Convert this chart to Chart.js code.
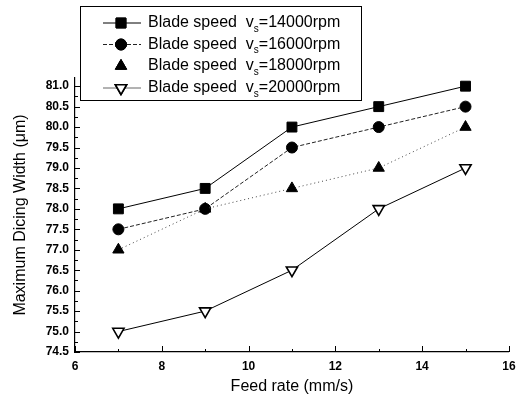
<!DOCTYPE html>
<html><head><meta charset="utf-8">
<script src="https://cdn.jsdelivr.net/npm/chart.js@4/dist/chart.umd.min.js"></script>
<style>html,body{margin:0;padding:0;background:#fff}#wrap{width:517px;height:397px}</style>
</head><body><div id="wrap"><canvas id="c" width="517" height="397"></canvas></div>
<script>
const feedRates = [7, 9, 11, 13, 15];
const width14000 = [78.0, 78.5, 80.0, 80.5, 81.0];
const width16000 = [77.5, 78.0, 79.5, 80.0, 80.5];
const width18000 = [77.0, 78.0, 78.5, 79.0, 80.0];
const width20000 = [75.0, 75.5, 76.5, 78.0, 79.0];
const speeds = ['14000', '16000', '18000', '20000'];
const yTicks = [74.5, 75.0, 75.5, 76.0, 76.5, 77.0, 77.5, 78.0, 78.5, 79.0, 79.5, 80.0, 80.5, 81.0];
const xTickLabels = [6, 8, 10, 12, 14, 16];
const xTitle = 'Feed rate (mm/s)';
const yTitle = 'Maximum Dicing Width (\u03bcm)';

const pts = arr => feedRates.map((x, i) => ({x: x, y: arr[i]}));

const styles = [
  {pointStyle: 'rect', pointRadius: 7, bg: '#000', dash: [], lineColor: '#000', rot: 0},
  {pointStyle: 'circle', pointRadius: 5.5, bg: '#000', dash: [4, 2], lineColor: '#222', rot: 0},
  {pointStyle: 'triangle', pointRadius: 6.5, bg: '#000', dash: [1, 3], lineColor: '#444', rot: 0},
  {pointStyle: 'triangle', pointRadius: 6.5, bg: '#fff', dash: [], lineColor: '#000', rot: 180}
];
const seriesData = [width14000, width16000, width18000, width20000];

const datasets = seriesData.map((d, i) => ({
  label: 'Blade speed  vs=' + speeds[i] + 'rpm',
  data: pts(d),
  borderColor: styles[i].lineColor,
  borderWidth: 1,
  borderDash: styles[i].dash,
  backgroundColor: styles[i].bg,
  pointStyle: styles[i].pointStyle,
  pointRadius: styles[i].pointRadius,
  pointHoverRadius: styles[i].pointRadius,
  pointBackgroundColor: styles[i].bg,
  pointBorderColor: '#000',
  pointBorderWidth: i === 3 ? 1.6 : 1,
  pointRotation: styles[i].rot,
  tension: 0,
  fill: false
})).reverse();

const tickPlugin = {
  id: 'inTicks',
  afterDraw(chart) {
    const ctx = chart.ctx, xs = chart.scales.x, ys = chart.scales.y;
    const L = chart.chartArea.left, B = chart.chartArea.bottom;
    ctx.save();
    ctx.strokeStyle = '#000';
    ctx.lineWidth = 1;
    ctx.beginPath();
    for (let v = 74.5; v <= 81.001; v += 0.25) {
      const y = Math.round(ys.getPixelForValue(v)) + 0.5;
      const major = Math.abs(v * 2 - Math.round(v * 2)) < 1e-6;
      ctx.moveTo(L, y); ctx.lineTo(L + (major ? 5 : 3), y);
    }
    for (let v = 6; v <= 16; v += 1) {
      const x = Math.round(xs.getPixelForValue(v)) + 0.5;
      ctx.moveTo(x, B); ctx.lineTo(x, B - (v % 2 === 0 ? 6 : 3));
    }
    ctx.stroke();
    ctx.restore();
  }
};

const legendPlugin = {
  id: 'boxLegend',
  afterDraw(chart) {
    const ctx = chart.ctx;
    ctx.save();
    ctx.fillStyle = '#fff';
    ctx.fillRect(80.5, 6.5, 281, 94);
    ctx.strokeStyle = '#000';
    ctx.lineWidth = 1;
    ctx.strokeRect(80.5, 6.5, 281, 94);
    const rows = [23, 44.5, 66, 88];
    for (let i = 0; i < 4; i++) {
      const y = rows[i], s = styles[i];
      ctx.save();
      ctx.strokeStyle = i === 3 ? '#666' : s.lineColor;
      ctx.setLineDash(s.dash);
      if (i !== 2) {
        ctx.beginPath(); ctx.moveTo(103, y); ctx.lineTo(141, y); ctx.stroke();
      }
      ctx.restore();
      ctx.fillStyle = s.bg; ctx.strokeStyle = '#000';
      ctx.lineWidth = i === 3 ? 1.6 : 1;
      Chart.helpers.drawPoint(ctx, {pointStyle: s.pointStyle, radius: s.pointRadius, rotation: s.rot, borderWidth: 1}, 121, y);
      ctx.fill(); ctx.stroke();
      ctx.fillStyle = '#000';
      ctx.textBaseline = 'middle';
      ctx.font = '16px "Liberation Sans", Arial, sans-serif';
      let x = 148;
      const a = 'Blade speed  v';
      ctx.fillText(a, x, y); x += ctx.measureText(a).width;
      ctx.font = '10px "Liberation Sans", Arial, sans-serif';
      ctx.fillText('s', x, y + 6); x += ctx.measureText('s').width;
      ctx.font = '16px "Liberation Sans", Arial, sans-serif';
      ctx.fillText('=' + speeds[i] + 'rpm', x, y);
    }
    ctx.restore();
  }
};

new Chart(document.getElementById('c'), {
  type: 'line',
  data: {datasets: datasets},
  options: {
    responsive: false,
    devicePixelRatio: 1,
    animation: false,
    events: [],
    layout: {padding: {left: 0, top: 78, right: 0, bottom: 0}},
    plugins: {legend: {display: false}, tooltip: {enabled: false}},
    scales: {
      x: {
        type: 'linear', min: 6, max: 16,
        afterBuildTicks: s => { s.ticks = xTickLabels.map(v => ({value: v})); },
        afterFit: s => { s.height = 45; s.paddingRight = 7; },
        grid: {display: false, drawTicks: false},
        border: {display: true, color: '#000', width: 1.2},
        ticks: {padding: 7, color: '#000', font: {family: '"Liberation Sans", Arial, sans-serif', size: 12, weight: 'bold'}, maxRotation: 0},
        title: {display: true, text: xTitle, color: '#000', padding: {top: 0, bottom: 1}, font: {family: '"Liberation Sans", Arial, sans-serif', size: 16}}
      },
      y: {
        type: 'linear', min: 74.5, max: 81.2,
        afterBuildTicks: s => { s.ticks = yTicks.map(v => ({value: v})); },
        afterFit: s => { s.width = 75; },
        grid: {display: false, drawTicks: false},
        border: {display: true, color: '#000', width: 1.2},
        ticks: {padding: 6, color: '#000', callback: v => Number(v).toFixed(1), font: {family: '"Liberation Sans", Arial, sans-serif', size: 12, weight: 'bold'}},
        title: {display: true, text: yTitle, color: '#000', padding: {top: 11, bottom: 0}, font: {family: '"Liberation Sans", Arial, sans-serif', size: 16}}
      }
    }
  },
  plugins: [tickPlugin, legendPlugin]
});
</script>
</body></html>
